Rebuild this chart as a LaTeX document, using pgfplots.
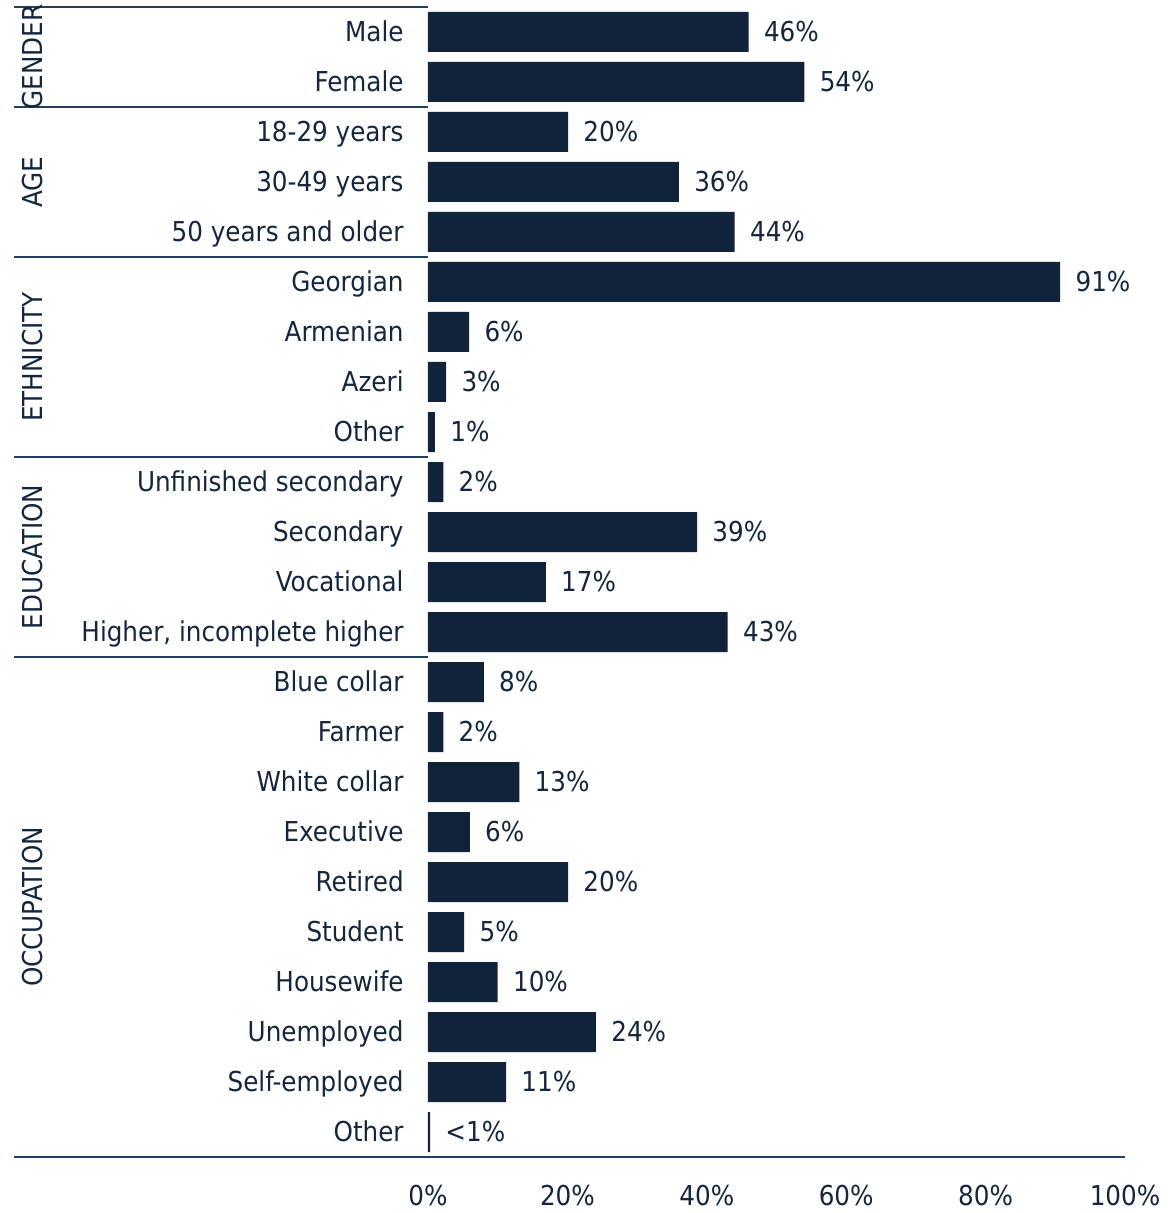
\documentclass[border=0pt]{standalone}
\usepackage{pgfplots}
\usepackage{pgfplotstable}
\usepackage{fontspec}
\setmainfont{DejaVu Sans Condensed}
\pgfplotsset{compat=1.18}
\definecolor{barc}{HTML}{10233A}
\definecolor{textc}{HTML}{14263D}
\definecolor{linec}{HTML}{22405E}
\newcommand{\fs}{\fontsize{13.7pt}{15pt}\selectfont}
\pgfplotstableread[col sep=comma]{
y,x,lab
0,46,46\%
1,54,54\%
2,20.1,20\%
3,36,36\%
4,44,44\%
5,90.7,91\%
6,5.9,6\%
7,2.6,3\%
8,1.0,1\%
9,2.2,2\%
10,38.6,39\%
11,16.9,17\%
12,43,43\%
13,8.0,8\%
14,2.2,2\%
15,13.1,13\%
16,6.0,6\%
17,20.1,20\%
18,5.2,5\%
19,10.0,10\%
20,24.1,24\%
21,11.2,11\%
22,0.3,<1\%
}\datatab
\begin{document}
\fs\color{textc}%
\begin{tikzpicture}
\useasboundingbox (-214pt,-28pt) rectangle (371.5pt,578.5pt);
\begin{axis}[
  at={(0,0)}, anchor=south west,
  scale only axis, width=348.5pt, height=575pt,
  xbar, bar width=0.8,
  xmin=0, xmax=100, ymin=-0.5, ymax=22.5,
  y dir=reverse,
  axis x line=bottom, axis y line=left,
  axis line style={draw=none},
  clip=false,
  xtick={0,20,40,60,80,100},
  xticklabels={0\%,20\%,40\%,60\%,80\%,100\%},
  ytick={0,...,22},
  yticklabels={Male,Female,18-29 years,30-49 years,50 years and older,Georgian,Armenian,Azeri,Other,Unfinished secondary,Secondary,Vocational,{Higher, incomplete higher},Blue collar,Farmer,White collar,Executive,Retired,Student,Housewife,Unemployed,Self-employed,Other},
  major tick length=0pt,
  tick style={draw=none},
  tick label style={font=\fs, text=textc},
  yticklabel style={anchor=east, inner sep=0pt, xshift=-12pt, yshift=-1.5pt, text height=0.72em, text depth=0.22em},
  xticklabel style={anchor=north, inner sep=0pt, yshift=-14pt},
  point meta=explicit symbolic,
  nodes near coords={\pgfplotspointmeta},
  nodes near coords align={horizontal},
  every node near coord/.append style={anchor=west, inner sep=0pt, xshift=7.5pt, yshift=-1.5pt, font=\fs, text=textc, text height=0.72em, text depth=0.22em},
]
\addplot[fill=barc, draw=none] table[x=x, y=y, meta=lab] {\datatab};
\draw[linec, line width=0.9pt] ([xshift=-207pt]axis cs:0,-0.5) -- (axis cs:0,-0.5);
\draw[linec, line width=0.9pt] ([xshift=-207pt]axis cs:0,1.5) -- (axis cs:0,1.5);
\draw[linec, line width=0.9pt] ([xshift=-207pt]axis cs:0,4.5) -- (axis cs:0,4.5);
\draw[linec, line width=0.9pt] ([xshift=-207pt]axis cs:0,8.5) -- (axis cs:0,8.5);
\draw[linec, line width=0.9pt] ([xshift=-207pt]axis cs:0,12.5) -- (axis cs:0,12.5);
\draw[linec, line width=0.9pt] ([xshift=-207pt]axis cs:0,22.5) -- (axis cs:100,22.5);
\node[rotate=90, anchor=center, inner sep=0pt] at ([xshift=-197.5pt]axis cs:0,0.5) {GENDER};
\node[rotate=90, anchor=center, inner sep=0pt] at ([xshift=-197.5pt]axis cs:0,3) {AGE};
\node[rotate=90, anchor=center, inner sep=0pt] at ([xshift=-197.5pt]axis cs:0,6.5) {ETHNICITY};
\node[rotate=90, anchor=center, inner sep=0pt] at ([xshift=-197.5pt]axis cs:0,10.5) {EDUCATION};
\node[rotate=90, anchor=center, inner sep=0pt] at ([xshift=-197.5pt]axis cs:0,17.5) {OCCUPATION};
\end{axis}
\end{tikzpicture}
\end{document}
